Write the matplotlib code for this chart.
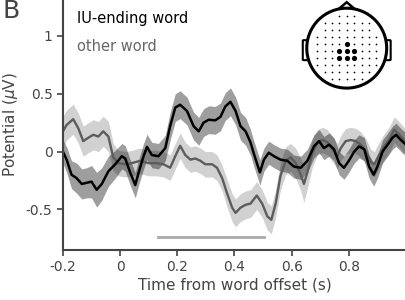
import numpy as np
import matplotlib
matplotlib.use("Agg")
import matplotlib.pyplot as plt
from matplotlib.patches import Circle, Polygon, FancyBboxPatch

# IU-ending word (black)
t_iu = [-0.2, -0.187, -0.17, -0.152, -0.134, -0.117, -0.1, -0.082, -0.064, -0.041,
        -0.017, 0.006, 0.018, 0.035, 0.053, 0.065, 0.082, 0.094, 0.111, 0.134,
        0.158, 0.175, 0.193, 0.21, 0.234, 0.257, 0.275, 0.292, 0.31, 0.333,
        0.351, 0.368, 0.386, 0.404, 0.421, 0.439, 0.456, 0.468, 0.489, 0.503,
        0.52, 0.538, 0.561, 0.585, 0.608, 0.632, 0.655, 0.678, 0.696, 0.713,
        0.731, 0.748, 0.766, 0.783, 0.8, 0.819, 0.836, 0.854, 0.871, 0.887,
        0.9, 0.918, 0.936, 0.953, 0.965, 0.982, 1.0]
y_iu = [0.0, -0.07, -0.20, -0.23, -0.28, -0.27, -0.26, -0.33, -0.28, -0.17,
        -0.11, -0.04, -0.06, -0.18, -0.29, -0.18, -0.04, 0.04, -0.03, -0.04,
        0.03, 0.22, 0.38, 0.405, 0.35, 0.22, 0.175, 0.25, 0.275, 0.27,
        0.30, 0.39, 0.43, 0.35, 0.22, 0.175, 0.08, -0.02, -0.18, -0.07,
        -0.01, -0.04, -0.07, -0.08, -0.13, -0.14, -0.08, 0.045, 0.09, 0.03,
        0.06, 0.02, -0.10, -0.14, -0.08, 0.0, 0.045, 0.02, -0.13, -0.20,
        -0.13, 0.0, 0.06, 0.12, 0.145, 0.10, 0.06]
se_iu = [0.10, 0.11, 0.12, 0.13, 0.13, 0.13, 0.14, 0.15, 0.14, 0.13,
         0.12, 0.11, 0.11, 0.11, 0.11, 0.11, 0.11, 0.11, 0.11, 0.11,
         0.11, 0.12, 0.12, 0.12, 0.12, 0.12, 0.12, 0.12, 0.12, 0.12,
         0.12, 0.12, 0.12, 0.12, 0.12, 0.12, 0.11, 0.11, 0.11, 0.10,
         0.10, 0.10, 0.10, 0.10, 0.10, 0.10, 0.10, 0.10, 0.10, 0.10,
         0.10, 0.10, 0.10, 0.10, 0.10, 0.10, 0.10, 0.10, 0.10, 0.10,
         0.10, 0.10, 0.10, 0.10, 0.10, 0.10, 0.10]

# other word (gray)
t_ot = [-0.2, -0.187, -0.164, -0.146, -0.129, -0.111, -0.094, -0.076, -0.059, -0.041,
        -0.024, -0.006, 0.018, 0.041, 0.07, 0.099, 0.129, 0.152, 0.175, 0.193,
        0.21, 0.228, 0.246, 0.263, 0.281, 0.298, 0.322, 0.339, 0.357, 0.374,
        0.392, 0.404, 0.421, 0.439, 0.456, 0.478, 0.497, 0.515, 0.529, 0.544,
        0.561, 0.579, 0.596, 0.614, 0.632, 0.643, 0.655, 0.673, 0.69, 0.708,
        0.725, 0.743, 0.76, 0.772, 0.789, 0.807, 0.825, 0.842, 0.86, 0.877,
        0.889, 0.906, 0.924, 0.941, 0.959, 0.977, 1.0]
y_ot = [0.175, 0.23, 0.28, 0.20, 0.09, 0.12, 0.145, 0.13, 0.175, 0.13,
        -0.05, -0.10, -0.11, -0.10, -0.08, -0.10, -0.10, -0.11, -0.14, -0.04,
        0.05, -0.03, -0.07, -0.06, -0.08, -0.11, -0.11, -0.14, -0.23, -0.36,
        -0.485, -0.53, -0.485, -0.46, -0.45, -0.38, -0.45, -0.56, -0.59, -0.45,
        -0.21, -0.08, -0.05, -0.10, -0.20, -0.28, -0.18, -0.01, 0.08, 0.10,
        0.08, 0.02, -0.04, 0.03, 0.09, 0.10, 0.09, 0.06, 0.0, -0.09,
        -0.11, -0.03, 0.045, 0.10, 0.19, 0.145, 0.08]
se_ot = [0.13, 0.13, 0.13, 0.13, 0.13, 0.13, 0.13, 0.13, 0.13, 0.13,
         0.12, 0.11, 0.11, 0.11, 0.11, 0.11, 0.11, 0.11, 0.11, 0.11,
         0.11, 0.11, 0.11, 0.11, 0.11, 0.11, 0.11, 0.11, 0.11, 0.12,
         0.12, 0.12, 0.12, 0.12, 0.12, 0.12, 0.12, 0.12, 0.12, 0.12,
         0.12, 0.12, 0.12, 0.13, 0.14, 0.16, 0.14, 0.12, 0.11, 0.11,
         0.11, 0.11, 0.11, 0.11, 0.11, 0.11, 0.11, 0.11, 0.11, 0.11,
         0.11, 0.11, 0.11, 0.11, 0.11, 0.11, 0.11]

# significant time window
sig_window = [0.133, 0.502]
sig_level = -0.74

xticks = [-0.2, 0, 0.2, 0.4, 0.6, 0.8]
xticklabels = ["-0.2", "0", "0.2", "0.4", "0.6", "0.8"]
yticks = [-0.5, 0, 0.5, 1]
yticklabels = ["-0.5", "0", "0.5", "1"]

axcol = "#444444"
graycol = "#5c5c5c"

fig = plt.figure(figsize=(4.06, 3.0), dpi=100)
ax = fig.add_axes([0.155, 0.167, 0.845, 0.833])

t_iu = np.array(t_iu); y_iu = np.array(y_iu); se_iu = np.array(se_iu)
t_ot = np.array(t_ot); y_ot = np.array(y_ot); se_ot = np.array(se_ot)

ax.fill_between(t_ot, y_ot - se_ot, y_ot + se_ot, color="k", alpha=0.18, lw=0)
ax.fill_between(t_iu, y_iu - se_iu, y_iu + se_iu, color="k", alpha=0.38, lw=0)
ax.plot(t_ot, y_ot, color=graycol, lw=1.7)
ax.plot(t_iu, y_iu, color="k", lw=1.8)
ax.plot(sig_window, [sig_level, sig_level], color="#aaaaaa", lw=2)

ax.set_xlim(-0.2, 1.0)
ax.set_ylim(-0.85, 1.31)
ax.set_xticks(xticks)
ax.set_xticklabels(xticklabels)
ax.set_yticks(yticks)
ax.set_yticklabels(yticklabels)
for s in ["top", "right"]:
    ax.spines[s].set_visible(False)
for s in ["left", "bottom"]:
    ax.spines[s].set_color(axcol)
    ax.spines[s].set_linewidth(1.5)
ax.tick_params(colors=axcol, labelsize=10, length=4, width=1.2)
ax.set_xlabel("Time from word offset (s)", fontsize=11, color=axcol, labelpad=2)
ax.set_ylabel(r"Potential ($\mu$V)", fontsize=11, color=axcol, labelpad=4)

ax.text(0.04, 0.925, "IU-ending word", transform=ax.transAxes, fontsize=10.5,
        color="k", va="center")
ax.text(0.04, 0.815, "other word", transform=ax.transAxes, fontsize=10.5,
        color="#666666", va="center")
fig.text(0.005, 0.965, "B", fontsize=18, color=axcol, va="center")

# head inset with electrode layout
hax = fig.add_axes([0.731, 0.673, 0.246, 0.333])
hax.set_xlim(-1.25, 1.25)
hax.set_ylim(-1.25, 1.25)
hax.set_aspect("equal")
hax.axis("off")
hax.add_patch(Polygon([[-0.2, 0.98], [0, 1.15], [0.2, 0.98]], closed=True,
                      fill=False, lw=1.8, color="k"))
hax.add_patch(FancyBboxPatch((-1.08, -0.28), 0.1, 0.46, boxstyle="round,pad=0.02",
                             fill=False, lw=1.5, color="k"))
hax.add_patch(FancyBboxPatch((0.98, -0.28), 0.1, 0.46, boxstyle="round,pad=0.02",
                             fill=False, lw=1.5, color="k"))
hax.add_patch(Circle((0, 0), 1.0, facecolor="white", edgecolor="k", lw=2.2, zorder=2))

gx, gy = np.meshgrid(np.arange(-4, 5) * 0.185, 0.11 + np.arange(-5, 5) * 0.175)
gx = gx.ravel(); gy = gy.ravel()
keep = np.hypot(gx, gy) < 0.86
gx = gx[keep]; gy = gy[keep]
big = ((np.abs(gx) < 0.2) & (gy > -0.3) & (gy < 0.0)) | ((np.abs(gx) < 0.01) & (np.abs(gy - 0.11) < 0.01))
hax.scatter(gx[~big], gy[~big], s=1.5, color="k", zorder=3, lw=0)
hax.scatter(gx[big], gy[big], s=14, color="k", zorder=3, lw=0)

fig.savefig("out.png", dpi=100)
